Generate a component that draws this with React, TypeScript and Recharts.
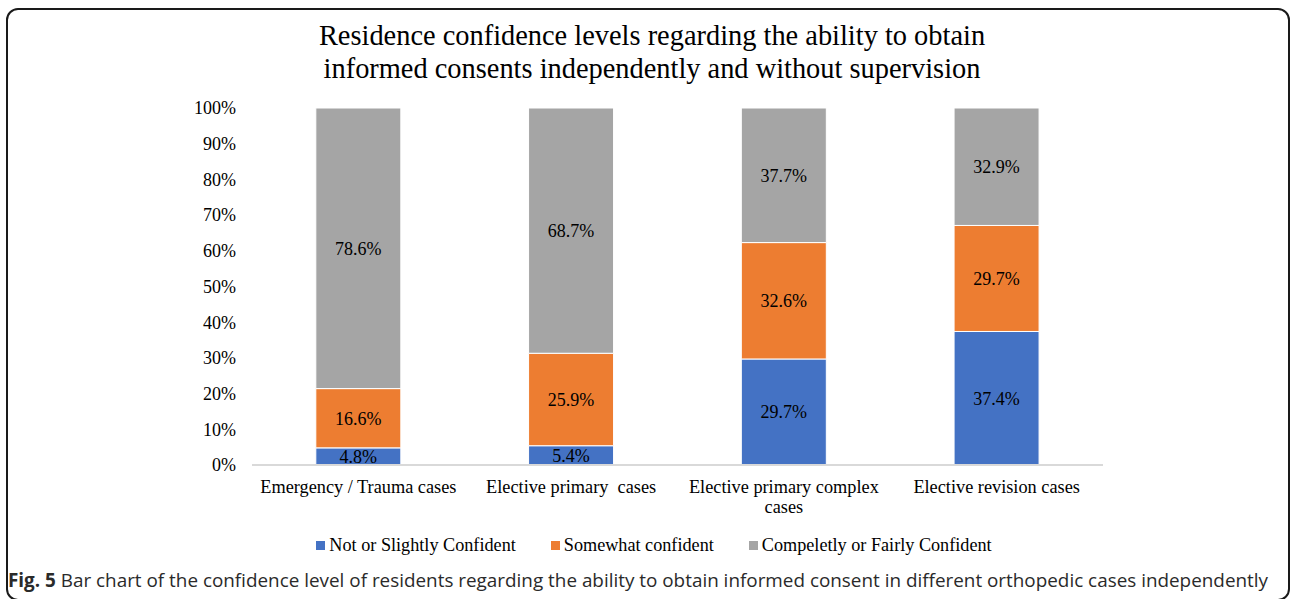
import React from "react";
import { BarChart, Bar, XAxis, YAxis, Legend, LabelList } from "recharts";

const categories = [
  "Emergency / Trauma cases",
  "Elective primary  cases",
  "Elective primary complex\ncases",
  "Elective revision cases",
];
const notConfident = [4.8, 5.4, 29.7, 37.4];
const somewhatConfident = [16.6, 25.9, 32.6, 29.7];
const fairlyConfident = [78.6, 68.7, 37.7, 32.9];
const yTicks = [0, 10, 20, 30, 40, 50, 60, 70, 80, 90, 100];
const seriesNames = [
  "Not or Slightly Confident",
  "Somewhat confident",
  "Compeletly or Fairly Confident",
];
const colors = ["#4472C4", "#ED7D31", "#A5A5A5"];

const data = categories.map((name, i) => ({
  name,
  a: notConfident[i],
  b: somewhatConfident[i],
  c: fairlyConfident[i],
}));

const SERIF = '"Liberation Serif", "Times New Roman", serif';

const XTick = (props: any) => {
  const { x, y, payload } = props;
  const lines = String(payload.value).split("\n");
  return (
    <text x={x} y={y} textAnchor="middle" fontSize={18.3} fontFamily={SERIF} fill="#000">
      {lines.map((l, i) => (
        <tspan key={i} x={x} dy={20} style={{ whiteSpace: "pre" }}>
          {l}
        </tspan>
      ))}
    </text>
  );
};

const LegendContent = (props: any) => {
  const payload = [...(props.payload || [])].sort(
    (p: any, q: any) => seriesNames.indexOf(p.value) - seriesNames.indexOf(q.value)
  );
  return (
    <div style={{ display: "flex", justifyContent: "center", fontFamily: SERIF, fontSize: 18.2, color: "#000" }}>
      {payload.map((p: any, i: number) => (
        <div key={i} style={{ display: "flex", alignItems: "center", marginRight: i < 2 ? 35 : 0 }}>
          <span style={{ display: "inline-block", width: 9, height: 9, background: p.color, marginRight: 4 }} />
          <span>{p.value}</span>
        </div>
      ))}
    </div>
  );
};

export default function App() {
  return (
    <div style={{ position: "absolute", left: 0, top: 0, width: 1290, height: 599, background: "#fff", overflow: "hidden" }}>
      <div
        style={{
          position: "absolute",
          left: 6,
          top: 8,
          width: 1284,
          height: 593,
          boxSizing: "border-box",
          border: "2px solid #1a1a1a",
          borderRadius: 12,
        }}
      />
      <div
        style={{
          position: "absolute",
          left: 0,
          top: 19,
          width: 1304,
          textAlign: "center",
          fontFamily: SERIF,
          fontSize: 28.4,
          lineHeight: "33px",
          color: "#000",
        }}
      >
        Residence confidence levels regarding the ability to obtain
        <br />
        informed consents independently and without supervision
      </div>
      <div style={{ position: "absolute", left: 0, top: 0 }}>
        <BarChart
          width={1290}
          height={599}
          data={data}
          margin={{ top: 108, right: 187, left: 192, bottom: 63 }}
          barCategoryGap="30%"
        >
          <XAxis
            dataKey="name"
            axisLine={{ stroke: "#D9D9D9", strokeWidth: 2 }}
            tickLine={false}
            tick={<XTick />}
            interval={0}
            height={50}
          />
          <YAxis
            domain={[0, 100]}
            ticks={yTicks}
            tickFormatter={(v: number) => `${v}%`}
            axisLine={false}
            tickLine={false}
            width={60}
            tickMargin={10}
            tick={{ fontSize: 18, fontFamily: SERIF, fill: "#000" }}
          />
          <Legend
            content={<LegendContent />}
            wrapperStyle={{ position: "absolute", top: 535, left: 0, width: 1308 }}
          />
          {["a", "b", "c"].map((k, i) => (
            <Bar
              key={k}
              dataKey={k}
              name={seriesNames[i]}
              stackId="s"
              fill={colors[i]}
              stroke="#ffffff"
              strokeWidth={1}
              isAnimationActive={false}
            >
              <LabelList
                dataKey={k}
                position="center"
                formatter={(v: any) => `${v}%`}
                fill="#000"
                fontSize={18}
                fontFamily={SERIF}
              />
            </Bar>
          ))}
        </BarChart>
      </div>
      <svg style={{ position: "absolute", left: 0, top: 560 }} width={1290} height={39}>
        <text
          x={8}
          y={27}
          fontFamily='"Open Sans", "Noto Sans", sans-serif'
          fontSize={19}
          fill="#2a2a2a"
          textLength={1260}
          lengthAdjust="spacingAndGlyphs"
        >
          <tspan fontWeight="bold">Fig. 5</tspan>
          <tspan> Bar chart of the confidence level of residents regarding the ability to obtain informed consent in different orthopedic cases independently</tspan>
        </text>
      </svg>
    </div>
  );
}
